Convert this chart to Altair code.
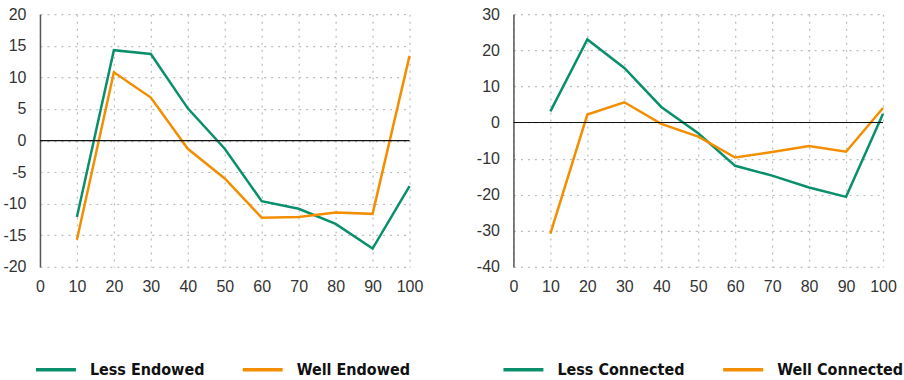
import altair as alt
import pandas as pd

deciles = [10, 20, 30, 40, 50, 60, 70, 80, 90, 100]
less_endowed = [-12.1, 14.3, 13.7, 5.1, -1.3, -9.6, -10.8, -13.2, -17.1, -7.2]
well_endowed = [-15.7, 10.8, 6.8, -1.3, -6.0, -12.2, -12.1, -11.4, -11.6, 13.4]
less_connected = [3.1, 23.0, 15.1, 4.3, -3.0, -12.0, -14.7, -18.0, -20.6, 2.4]
well_connected = [-30.8, 2.2, 5.6, -0.4, -3.9, -9.7, -8.2, -6.5, -8.1, 4.0]

GREEN = "#0a8f6c"
ORANGE = "#f28e00"
TICK_FONT = "Liberation Sans"
LEG_FONT = "DejaVu Sans Condensed"


def panel(a_name, a_vals, b_name, b_vals, ymin, ymax, step, legx):
    df = pd.DataFrame({
        "x": deciles * 2,
        "y": a_vals + b_vals,
        "s": [a_name] * len(deciles) + [b_name] * len(deciles),
    })
    xs = alt.Scale(domain=[0, 100], nice=False)
    ys = alt.Scale(domain=[ymin, ymax], nice=False)
    xaxis = alt.Axis(
        values=list(range(0, 101, 10)), title=None, domain=False, ticks=False,
        grid=True, gridDash=[2, 5], gridColor="#bbbbbb", gridWidth=1.2,
        labelFont=TICK_FONT, labelFontSize=16, labelColor="#333333",
        labelPadding=12, labelFlush=False, labelOverlap=False)
    yaxis = alt.Axis(
        values=list(range(ymin, ymax + 1, step)), title=None, domain=True,
        domainColor="#555555", domainWidth=1.5, ticks=False,
        grid=True, gridDash=[2, 5], gridColor="#bbbbbb", gridWidth=1.2,
        labelFont=TICK_FONT, labelFontSize=16, labelColor="#333333",
        labelPadding=14, labelOverlap=False, labelExpr="datum.value + ''")
    lines = alt.Chart(df).mark_line(strokeWidth=2.5, clip=False).encode(
        x=alt.X("x:Q", scale=xs, axis=xaxis),
        y=alt.Y("y:Q", scale=ys, axis=yaxis),
        color=alt.Color("s:N", scale=alt.Scale(domain=[a_name, b_name], range=[GREEN, ORANGE]),
                        legend=alt.Legend(
                            title=None, orient="none", direction="horizontal",
                            legendX=legx, legendY=334, symbolType="M-1,0H1",
                            symbolSize=1600, symbolStrokeWidth=3.5, padding=0,
                            labelFont=LEG_FONT, labelFontSize=16, labelFontWeight="bold",
                            labelColor="#111111", columnPadding=31, labelOffset=12)),
    )
    zero = alt.Chart(pd.DataFrame({"z": [0]})).mark_rule(color="#111111", strokeWidth=1.2).encode(
        y=alt.Y("z:Q", scale=ys, axis=yaxis))
    return alt.layer(lines, zero).properties(width=370, height=253)


left = panel("Less Endowed", less_endowed, "Well Endowed", well_endowed, -20, 20, 5, -6)
right = panel("Less Connected", less_connected, "Well Connected", well_connected, -40, 30, 10, -12)

chart = alt.hconcat(left, right, spacing=104, bounds="flush").resolve_scale(color="independent").properties(
    padding={"left": 2, "top": 6, "right": 0, "bottom": 0},
).configure_view(stroke=None)

chart.save("out.html", embed_options={"renderer": "svg", "actions": False})
